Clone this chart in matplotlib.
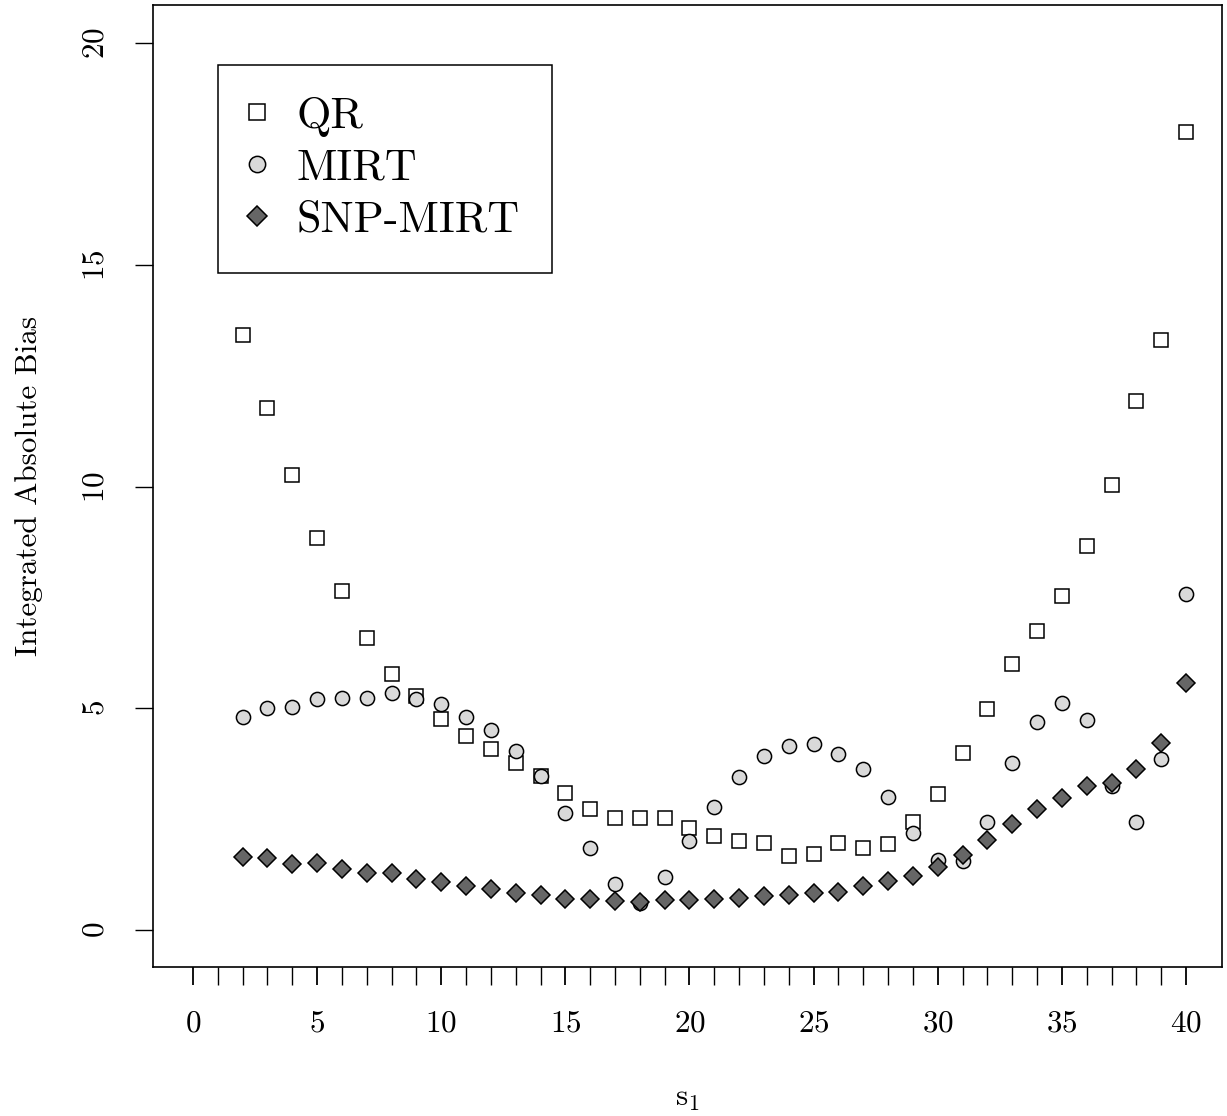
import numpy as np
import matplotlib.pyplot as plt
from matplotlib.ticker import MultipleLocator, FixedLocator

plt.rc('font', family='cmr10', size=22.4)
plt.rc('mathtext', fontset='cm')
plt.rcParams['axes.formatter.use_mathtext'] = True
plt.rc('axes', linewidth=1.2)

# integrated absolute bias by s1 (x = 2..40)
s1 = np.arange(2, 41)
qr = [13.42, 11.77, 10.26, 8.84, 7.64, 6.58, 5.77, 5.28, 4.76, 4.37,
      4.09, 3.76, 3.47, 3.10, 2.74, 2.53, 2.53, 2.53, 2.31, 2.13,
      2.01, 1.97, 1.68, 1.72, 1.96, 1.86, 1.93, 2.44, 3.07, 4.00,
      4.98, 6.00, 6.75, 7.53, 8.66, 10.03, 11.93, 13.30, 18.00]
mirt = [4.81, 5.01, 5.04, 5.21, 5.23, 5.24, 5.34, 5.20, 5.10, 4.81,
        4.51, 4.04, 3.47, 2.65, 1.86, 1.03, 0.62, 1.19, 2.00, 2.78,
        3.46, 3.92, 4.16, 4.19, 3.98, 3.63, 2.99, 2.18, 1.58, 1.56,
        2.44, 3.76, 4.69, 5.11, 4.74, 3.25, 2.44, 3.86, 7.57]
snp_mirt = [1.64, 1.62, 1.50, 1.52, 1.38, 1.29, 1.29, 1.16, 1.09, 0.99,
            0.92, 0.83, 0.80, 0.71, 0.70, 0.66, 0.64, 0.68, 0.68, 0.71,
            0.73, 0.77, 0.80, 0.83, 0.86, 1.00, 1.11, 1.22, 1.43, 1.69,
            2.04, 2.39, 2.74, 2.98, 3.25, 3.31, 3.63, 4.22, 5.56]

fig = plt.figure(figsize=(12.27, 11.16), dpi=100)
ax = fig.add_axes([0.1247, 0.1335, 0.8712, 0.8620])

ax.plot(s1, qr, ls='none', marker='s', ms=9.8, mfc='white', mec='black',
        mew=1.1, label='QR')
ax.plot(s1, mirt, ls='none', marker='o', ms=10.2, mfc='#D9D9D9', mec='black',
        mew=1.1, label='MIRT')
ax.plot(s1, snp_mirt, ls='none', marker='D', ms=8.8, mfc='#666666', mec='black',
        mew=1.1, label='SNP-MIRT')

ax.set_xlim(-1.611, 41.45)
ax.set_ylim(-0.834, 20.86)

ax.xaxis.set_major_locator(MultipleLocator(5))
ax.xaxis.set_minor_locator(FixedLocator([i for i in range(41) if i % 5]))
ax.yaxis.set_major_locator(MultipleLocator(5))
ax.tick_params(axis='x', which='major', direction='out', length=13, width=1.3, pad=18)
ax.tick_params(axis='x', which='minor', direction='out', length=13, width=1.0)
ax.tick_params(axis='y', which='major', direction='out', length=13, width=1.0, pad=18)
for lab in ax.get_yticklabels():
    lab.set_rotation(90)
    lab.set_va('center')

ax.set_xlabel(r'$\mathrm{s}_1$')
ax.set_ylabel('Integrated Absolute Bias')
ax.xaxis.set_label_coords(0.5, -0.123)
ax.yaxis.set_label_coords(-0.103, 0.5)

leg = ax.legend(loc='upper left', bbox_to_anchor=(0.0608, 0.9376), borderaxespad=0,
                fontsize=31.8, fancybox=False, framealpha=1, edgecolor='black',
                handlelength=0.33, handletextpad=0.73, borderpad=0.72,
                labelspacing=0.27, markerscale=1.15)
leg.get_frame().set_linewidth(1.1)

fig.savefig('out.png', dpi=100)
